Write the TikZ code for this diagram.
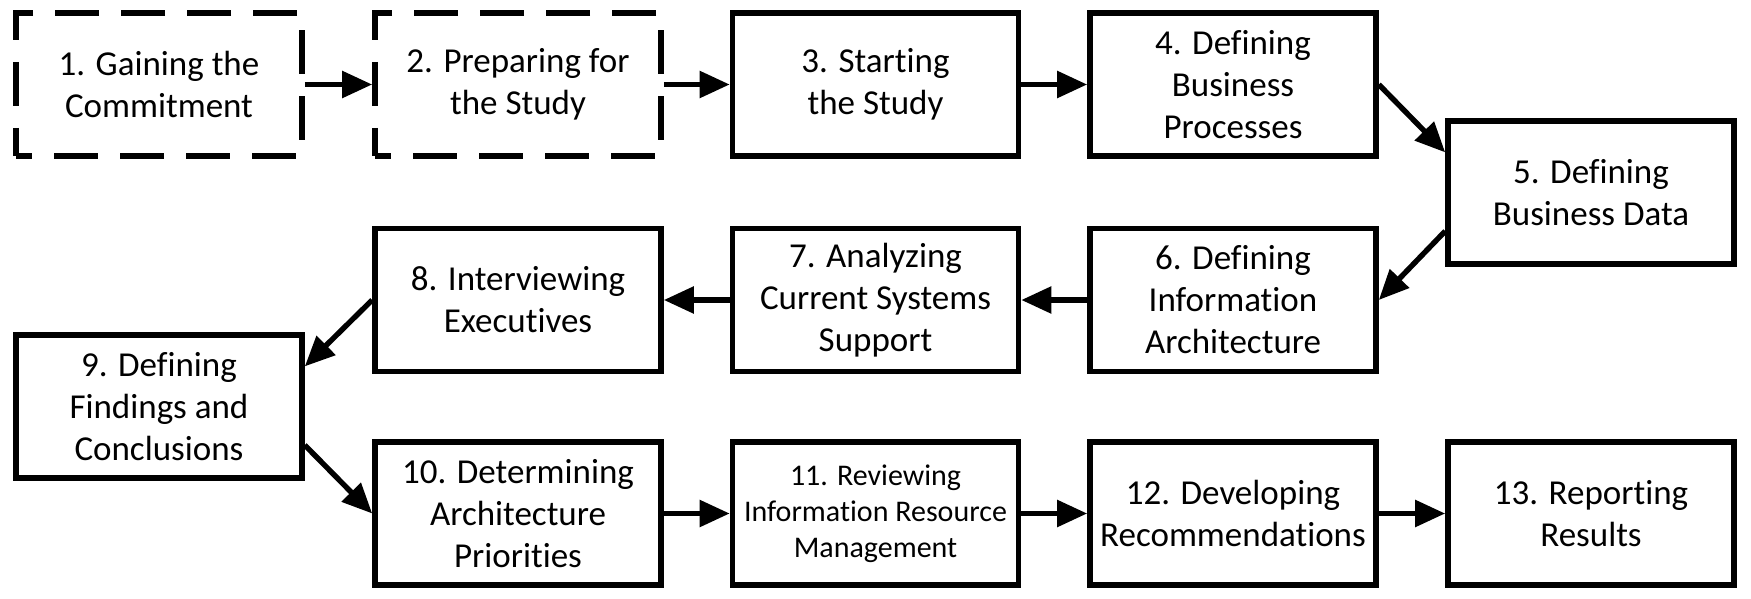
\documentclass[tikz,border=0pt]{standalone}
\usepackage{fontspec}
\setmainfont{Carlito}[Ligatures=NoCommon]
\usetikzlibrary{arrows.meta,calc}
\begin{document}
\begin{tikzpicture}[x=0.5pt,y=-0.5pt,
  stepbox/.style={draw=black,line width=2.8pt,fill=white,minimum width=143pt,minimum height=71.5pt,
    align=center,inner sep=1pt,font=\fontsize{17.5}{21}\selectfont},
  dashbox/.style={stepbox,dash pattern=on 22pt off 11pt,dash phase=14pt},
  smalltext/.style={font=\fontsize{15}{18}\selectfont},
  conn/.style={line width=2.7pt,-{Triangle[length=15pt,width=13pt]}}]
\useasboundingbox (0,0) rectangle (1751,599);
\node[dashbox] (n1) at (159,84.5) {1. Gaining the\\Commitment};
\node[dashbox] (n2) at (518,84.5) {2. Preparing for\\the Study};
\node[stepbox] (n3) at (875.5,84.5) {3. Starting\\the Study};
\node[stepbox] (n4) at (1233,84.5) {4. Defining\\Business\\Processes};
\node[stepbox] (n5) at (1591,192.5) {5. Defining\\Business Data};
\node[stepbox] (n6) at (1233,300) {6. Defining\\Information\\Architecture};
\node[stepbox] (n7) at (875.5,300) {7. Analyzing\\Current Systems\\Support};
\node[stepbox] (n8) at (518,300) {8. Interviewing\\Executives};
\node[stepbox] (n9) at (159,406.5) {9. Defining\\Findings and\\Conclusions};
\node[stepbox] (n10) at (518,513.5) {10. Determining\\Architecture\\Priorities};
\node[stepbox,smalltext] (n11) at (875.5,513.5) {11. Reviewing\\Information Resource\\Management};
\node[stepbox] (n12) at (1233,513.5) {12. Developing\\Recommendations};
\node[stepbox] (n13) at (1591,513.5) {13. Reporting\\Results};
\draw[conn] (n1.east) -- (n2.west);
\draw[conn] (n2.east) -- (n3.west);
\draw[conn] (n3.east) -- (n4.west);
\draw[conn] (n4.east) -- ($(n5.north west)!0.23!(n5.south west)$);
\draw[conn] ($(n5.north west)!0.76!(n5.south west)$) -- (n6.east);
\draw[conn] (n6.west) -- (n7.east);
\draw[conn] (n7.west) -- (n8.east);
\draw[conn] (n8.west) -- ($(n9.north east)!0.23!(n9.south east)$);
\draw[conn] ($(n9.north east)!0.76!(n9.south east)$) -- (n10.west);
\draw[conn] (n10.east) -- (n11.west);
\draw[conn] (n11.east) -- (n12.west);
\draw[conn] (n12.east) -- (n13.west);
\end{tikzpicture}
\end{document}
